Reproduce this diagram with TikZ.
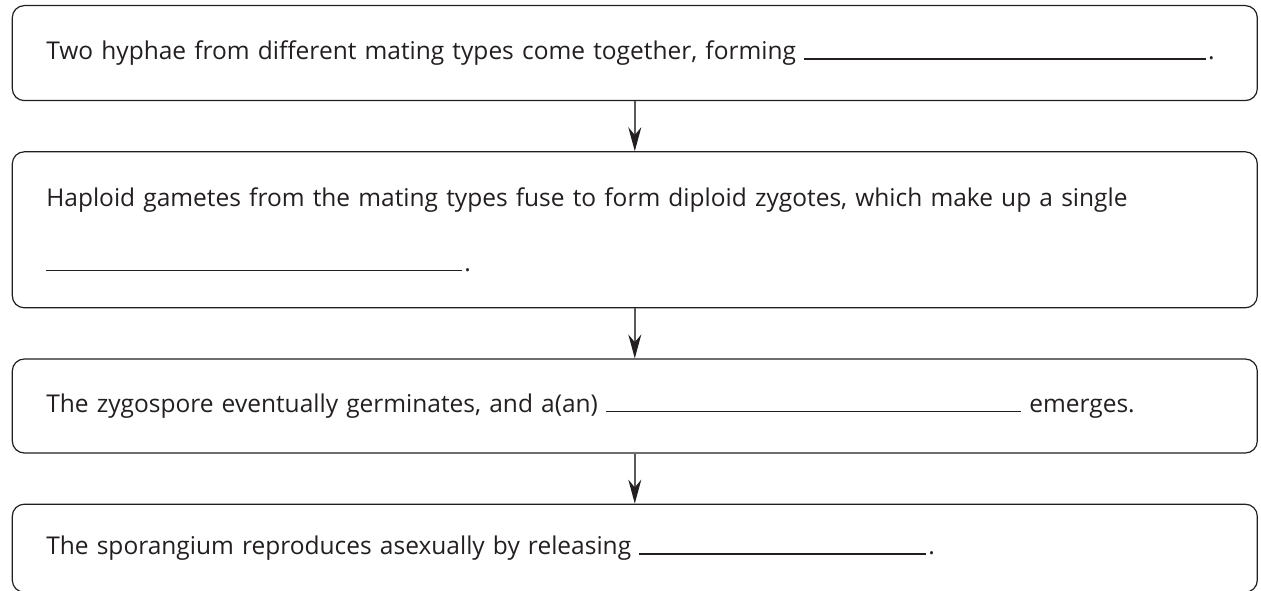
\documentclass[tikz,border=0pt]{standalone}
\usepackage{fontspec}
\setmainfont{Open Sans}
\usepackage{xcolor}
\usetikzlibrary{positioning,arrows.meta}

\definecolor{inkgray}{HTML}{231F20}
\newcommand{\blank}[1]{\rule{#1}{1.2pt}}

\begin{document}
\begin{tikzpicture}[x=1pt, y=1pt, node distance = 50pt]
            \tikzstyle{stepbox} = [draw=inkgray, line width=1.2pt, rounded corners=12pt, text width=1177pt, inner xsep=34pt, inner ysep=0pt, align=left, text=inkgray, font=\fontsize{24.5}{65}\selectfont]
            \tikzstyle{flow} = [-{Stealth[length=24pt, width=13pt, color=inkgray]}, line width=1.4pt, draw=black!65]
            \useasboundingbox (0,0) rectangle (1261,-591);

            \node [stepbox, minimum height=95pt, anchor=north west] (hyphae) at (11.7,-5) {Two hyphae from different mating types come together, forming \blank{402pt}\hspace{2pt}.};

            \node [stepbox, minimum height=156pt, below = of hyphae] (gametes) {Haploid gametes from the mating types fuse to form diploid zygotes, which make up a single\\ \blank{416pt}\hspace{2pt}.};

            \node [stepbox, minimum height=94pt, below = of gametes] (zygospore) {The zygospore eventually germinates, and a(an) \blank{415pt} emerges.};

            \node [stepbox, minimum height=88pt, below = of zygospore] (sporangium) {The sporangium reproduces asexually by releasing \blank{287pt}\hspace{2pt}.};

            \draw [flow] (hyphae) to (gametes);
            \draw [flow] (gametes) to (zygospore);
            \draw [flow] (zygospore) to (sporangium);
        \end{tikzpicture}
\end{document}
